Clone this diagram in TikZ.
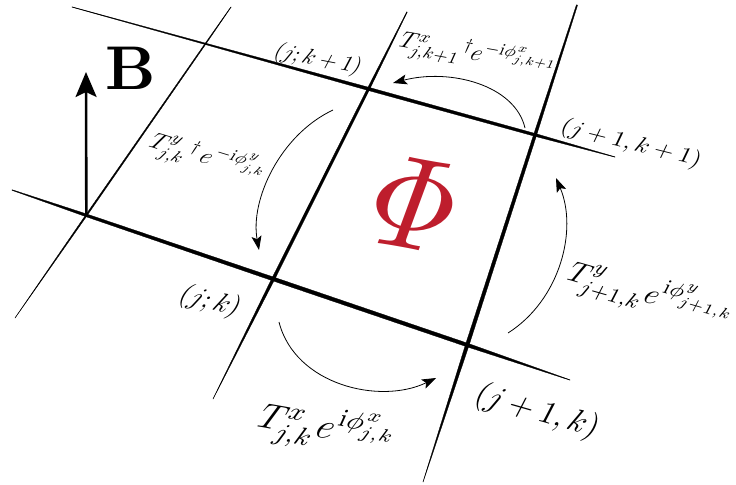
\documentclass[tikz,border=0pt]{standalone}
\usetikzlibrary{arrows.meta,calc}
\definecolor{phired}{RGB}{190,30,45}
\tikzset{
  gridline/.style={fill=black,draw=black,line width=0.3pt,line join=round},
  flux/.style={-{Stealth[length=14bp,width=10bp,inset=3bp]},line width=0.8bp},
  barrow/.style={-{Stealth[length=25bp,width=21bp,inset=5bp]},line width=2.6bp},
  lbl/.style={inner sep=0pt,outer sep=0pt}
}
\begin{document}
\begin{tikzpicture}[x=1bp,y=-1bp]
\useasboundingbox (0,0) rectangle (736,485);
% grid line end points
\coordinate (A1) at (72,7);   \coordinate (A2) at (615,157);
\coordinate (B1) at (12,190); \coordinate (B2) at (570,380);
\coordinate (C1) at (231,7);  \coordinate (C2) at (15,318);
\coordinate (D1) at (407,12); \coordinate (D2) at (213,399);
\coordinate (E1) at (577,5);  \coordinate (E2) at (423,482);
\coordinate (AC) at (intersection of A1--A2 and C1--C2);
\coordinate (AD) at (intersection of A1--A2 and D1--D2);
\coordinate (AE) at (intersection of A1--A2 and E1--E2);
\coordinate (BC) at (intersection of B1--B2 and C1--C2);
\coordinate (BD) at (intersection of B1--B2 and D1--D2);
\coordinate (BE) at (intersection of B1--B2 and E1--E2);
% line A
\fill[gridline] ($(A1)!0.2bp!90:(A2)$) -- ($(AC)!0.7bp!90:(A2)$) -- ($(AD)!1.6bp!90:(A2)$) -- ($(AE)!1.4bp!90:(A2)$) -- ($(A2)!0.2bp!-90:(A1)$)
  -- ($(A2)!0.2bp!90:(A1)$) -- ($(AE)!1.4bp!-90:(A2)$) -- ($(AD)!1.6bp!-90:(A2)$) -- ($(AC)!0.7bp!-90:(A2)$) -- ($(A1)!0.2bp!-90:(A2)$) -- cycle;
% line B
\fill[gridline] ($(B1)!0.3bp!90:(B2)$) -- ($(BC)!1.4bp!90:(B2)$) -- ($(BD)!1.9bp!90:(B2)$) -- ($(BE)!1.8bp!90:(B2)$) -- ($(B2)!0.2bp!-90:(B1)$)
  -- ($(B2)!0.2bp!90:(B1)$) -- ($(BE)!1.8bp!-90:(B2)$) -- ($(BD)!1.9bp!-90:(B2)$) -- ($(BC)!1.4bp!-90:(B2)$) -- ($(B1)!0.3bp!-90:(B2)$) -- cycle;
% line C
\fill[gridline] ($(C1)!0.2bp!90:(C2)$) -- ($(AC)!0.5bp!90:(C2)$) -- ($(BC)!0.75bp!90:(C2)$) -- ($(C2)!0.1bp!-90:(C1)$)
  -- ($(C2)!0.1bp!90:(C1)$) -- ($(BC)!0.75bp!-90:(C2)$) -- ($(AC)!0.5bp!-90:(C2)$) -- ($(C1)!0.2bp!-90:(C2)$) -- cycle;
% line D
\fill[gridline] ($(D1)!0.3bp!90:(D2)$) -- ($(AD)!1.2bp!90:(D2)$) -- ($(BD)!1.5bp!90:(D2)$) -- ($(D2)!0.1bp!-90:(D1)$)
  -- ($(D2)!0.1bp!90:(D1)$) -- ($(BD)!1.5bp!-90:(D2)$) -- ($(AD)!1.2bp!-90:(D2)$) -- ($(D1)!0.3bp!-90:(D2)$) -- cycle;
% line E
\fill[gridline] ($(E1)!0.6bp!90:(E2)$) -- ($(AE)!1.5bp!90:(E2)$) -- ($(BE)!1.8bp!90:(E2)$) -- ($(E2)!0.1bp!-90:(E1)$)
  -- ($(E2)!0.1bp!90:(E1)$) -- ($(BE)!1.8bp!-90:(E2)$) -- ($(AE)!1.5bp!-90:(E2)$) -- ($(E1)!0.6bp!-90:(E2)$) -- cycle;
% magnetic field arrow
\coordinate (Btip) at (86,72);
\draw[barrow] (BC) -- (Btip);
\node[lbl,scale=6.2] (Blbl) at (131,68) {$\mathbf{B}$};
% flux
\node[lbl,text=phired,rotate=-10,xslant=0.18,scale=12.3,yscale=1.08] (phi) at (415,204) {$\Phi$};
% site labels
\node[lbl,rotate=-11,xslant=0.3,scale=2.2] (sjk1) at (318,60) {$(j;k+1)$};
\node[lbl,rotate=-14,xslant=0.2,scale=2.2,xscale=1.15] (sj1k1) at (631,144) {$(j+1,k+1)$};
\node[lbl,rotate=-14,xslant=0.3,scale=2.7] (sjk) at (210,302) {$(j;k)$};
\node[lbl,rotate=-16,xslant=0.2,scale=3.2] (sj1k) at (537,412) {$(j+1,k)$};
% hopping arrows
\coordinate (a1s) at (525,128); \coordinate (a1e) at (393,83);
\draw[flux] (a1s) .. controls (515,85) and (450,68) .. (a1e);
\coordinate (a2s) at (333,110); \coordinate (a2e) at (259,250);
\draw[flux] (a2s) .. controls (280,135) and (250,200) .. (a2e);
\coordinate (a3s) at (279,322); \coordinate (a3e) at (436,378);
\draw[flux] (a3s) .. controls (295,385) and (380,405) .. (a3e);
\coordinate (a4s) at (508,333); \coordinate (a4e) at (556,178);
\draw[flux] (a4s) .. controls (560,300) and (578,230) .. (a4e);
% hopping labels
\node[lbl,rotate=-10,xslant=0.25,scale=2.35] (ltop) at (478,55) {$T^{x}_{j,k+1}{}^{\dagger}e^{-\mathrm{i}\phi^{x}_{j,k+1}}$};
\node[lbl,rotate=-17,xslant=0.3,scale=2.35] (lleft) at (208,158) {$T^{y}_{j,k}{}^{\dagger}\,e^{-\mathrm{i}\phi^{y}_{j,k}}$};
\node[lbl,rotate=-16,xslant=0.2,scale=2.95] (lright) at (651,295) {$T^{y}_{j+1,k}e^{\mathrm{i}\phi^{y}_{j+1,k}}$};
\node[lbl,rotate=-10,xslant=0.25,scale=3.6] (lbot) at (327,430) {$T^{x}_{j,k}e^{\mathrm{i}\phi^{x}_{j,k}}$};
\end{tikzpicture}
\end{document}
